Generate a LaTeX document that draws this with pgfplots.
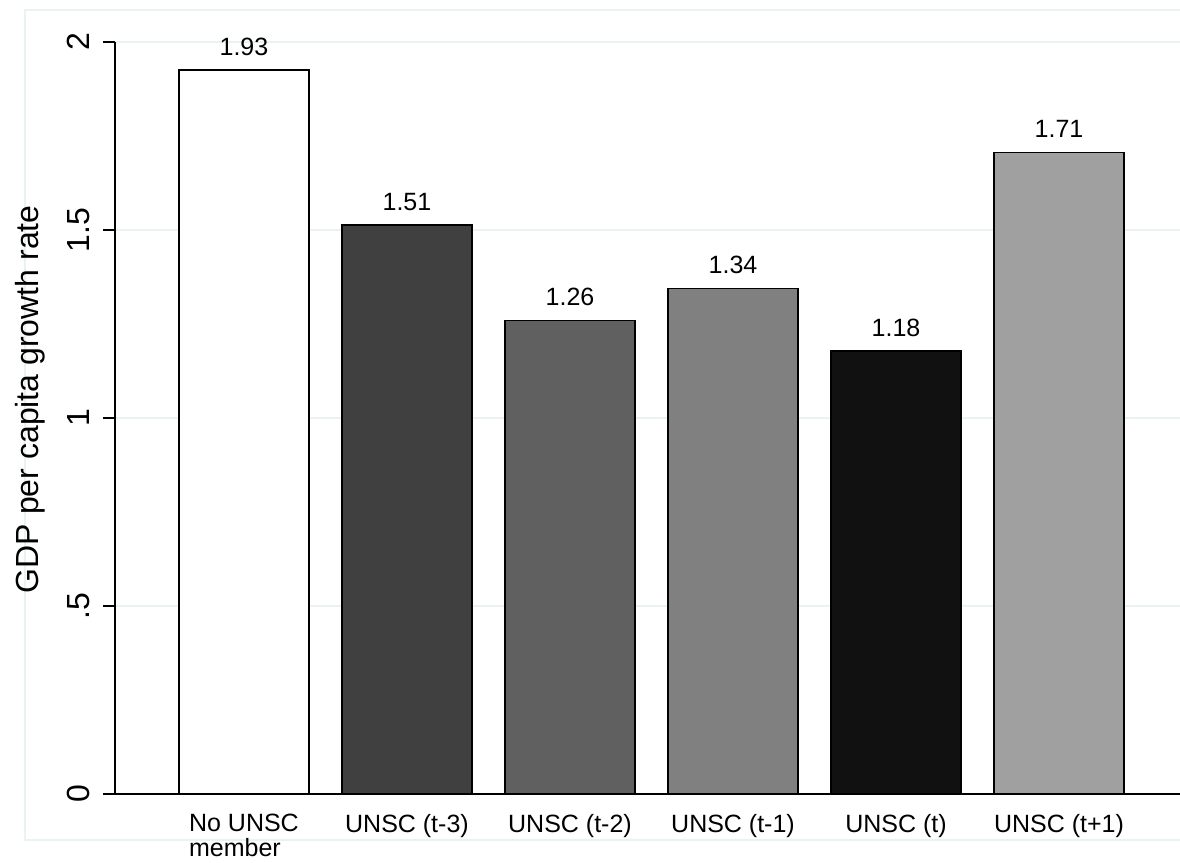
\documentclass[border=0pt]{standalone}
\usepackage{pgfplots}
\pgfplotsset{compat=1.18}
\usepackage{fontspec}
\setmainfont{Liberation Sans}
\definecolor{gridc}{HTML}{EAF2F3}
\definecolor{b1}{HTML}{FFFFFF}
\definecolor{b2}{HTML}{404040}
\definecolor{b3}{HTML}{606060}
\definecolor{b4}{HTML}{808080}
\definecolor{b5}{HTML}{111111}
\definecolor{b6}{HTML}{A0A0A0}
\begin{document}
\begin{tikzpicture}
\useasboundingbox (0,0) rectangle (590pt,431.5pt);
\draw[gridc, line width=0.6pt] (12.5pt,11.5pt) rectangle (620pt,426.5pt);
\begin{axis}[
  at={(57.5pt,34.5pt)}, anchor=south west,
  scale only axis, width=532.5pt, height=376pt,
  xmin=-0.791, xmax=5.742, ymin=0, ymax=2,
  axis x line*=bottom, axis y line*=left,
  axis line style={line width=0.8pt, -},
  xtick={0,1,2,3,4,5},
  xticklabels={{No UNSC\\member},{UNSC (t-3)},{UNSC (t-2)},{UNSC (t-1)},{UNSC (t)},{UNSC (t+1)}},
  xticklabel style={font=\fontsize{12.5}{12.5}\selectfont, align=left, anchor=north, inner sep=0pt, yshift=-4pt},
  x tick style={draw=none},
  major x tick style={draw=none},
  ytick={0,0.5,1,1.5,2},
  yticklabels={0,.5,1,1.5,2},
  yticklabel style={font=\fontsize{16}{16}\selectfont, xshift=-6.5pt, rotate=90, anchor=south, inner sep=0pt},
  y tick style={line width=0.8pt, black},
  tick align=outside, major tick length=6pt,
  ymajorgrids, grid style={gridc, line width=1pt},
  ylabel={GDP per capita growth rate},
  ylabel style={font=\fontsize{16}{16}\selectfont, at={(axis description cs:-0.08,0.525)}, anchor=center, rotate=0},
  ybar, bar width=0.8, bar shift=0pt,
  nodes near coords,
  nodes near coords style={font=\fontsize{12.5}{15}\selectfont, anchor=south, inner sep=0pt, yshift=7pt, /pgf/number format/fixed, /pgf/number format/precision=2, /pgf/number format/fixed zerofill, /pgf/number format/assume math mode=true},
  clip=false,
]
\addplot[fill=b1, draw=black, line width=0.8pt] coordinates {(0,1.925)};
\addplot[fill=b2, draw=black, line width=0.8pt] coordinates {(1,1.513)};
\addplot[fill=b3, draw=black, line width=0.8pt] coordinates {(2,1.259)};
\addplot[fill=b4, draw=black, line width=0.8pt] coordinates {(3,1.344)};
\addplot[fill=b5, draw=black, line width=0.8pt] coordinates {(4,1.178)};
\addplot[fill=b6, draw=black, line width=0.8pt] coordinates {(5,1.706)};
\end{axis}
\end{tikzpicture}
\end{document}
